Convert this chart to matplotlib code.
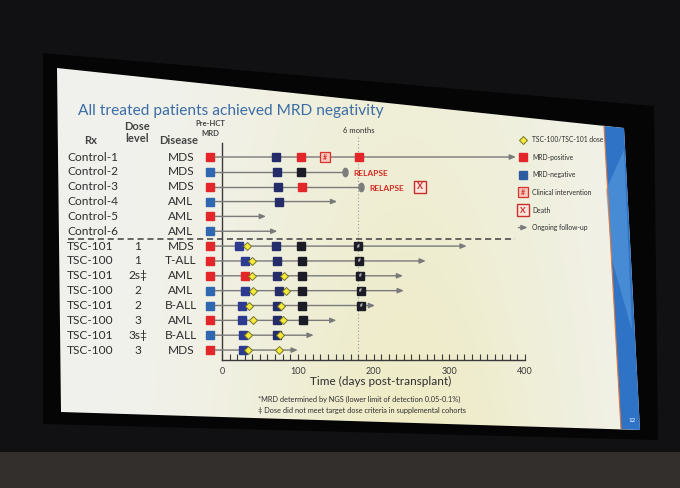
import matplotlib.pyplot as plt
import matplotlib.patches as mpatches
import matplotlib.transforms as mtransforms
from matplotlib.ticker import FixedLocator
import numpy as np

plt.rcParams["font.family"] = ["Lato", "DejaVu Sans"]

W, H = 680, 488

# ---- values ----
rx = ["Control-1", "Control-2", "Control-3", "Control-4", "Control-5", "Control-6",
      "TSC-101", "TSC-100", "TSC-101", "TSC-100", "TSC-101", "TSC-100", "TSC-101", "TSC-100"]
dose_level = ["", "", "", "", "", "", "1", "1", "2s‡", "2", "2", "3", "3s‡", "3"]
disease = ["MDS", "MDS", "MDS", "AML", "AML", "AML",
           "MDS", "T-ALL", "AML", "AML", "B-ALL", "AML", "B-ALL", "MDS"]
pre_hct_mrd = ["pos", "neg", "pos", "neg", "pos", "neg",
               "pos", "pos", "pos", "neg", "neg", "pos", "neg", "pos"]
followup_end = [388, 163, 183, 152, 58, 73, 323, 269, 239, 240, 202, 151, 121, 100]
ongoing = [True, False, False, True, True, True,
           True, True, True, True, True, True, True, True]

# post-transplant events as (row, day)
mrd_neg_early = [(7, 23), (8, 31), (10, 31), (11, 27), (12, 27), (13, 28), (14, 28)]
mrd_neg_mid = [(1, 71), (2, 73), (3, 74), (4, 75), (7, 71), (8, 72), (9, 73),
               (10, 75), (11, 72), (12, 72), (13, 73)]
mrd_neg_late = [(2, 104), (7, 104), (8, 105), (9, 105), (10, 106), (11, 106), (12, 107)]
mrd_neg_6mo = [(7, 180), (8, 181), (9, 182), (10, 183), (11, 184)]
mrd_pos = [(1, 104), (1, 181), (3, 105), (9, 31)]
doses = [(7, 33), (8, 39), (9, 40), (9, 82), (10, 41), (10, 85), (11, 35), (11, 78),
         (12, 41), (12, 81), (13, 34), (13, 77), (14, 34), (14, 75)]
intervention = [(1, 136)]
relapse = [(2, 163), (3, 183)]
death = [(3, 262)]
six_months = 180

legend_labels = ["TSC-100/TSC-101 dose", "MRD-positive", "MRD-negative",
                 "Clinical intervention", "Death", "Ongoing follow-up"]

RED = "#E3262A"
BLUE = "#2F67B0"
NAVY_EARLY = "#2C3A90"
NAVY = "#252C6A"
BLACK = "#1C1C26"
LINE = "#7a7a7a"
TXT = "#2e2e2e"


def ftxt(x, y, s, **kw):
    fig.text(x / W, 1 - y / H, s, **kw)


def day(px):
    return (px - 222) / 0.7575


def row(py):
    return 1 + (py - 157) / 14.85


fig = plt.figure(figsize=(W / 100, H / 100), dpi=100)
fig.patch.set_facecolor("#111113")

# ---- screen / slide backdrop ----
bg = fig.add_axes([0, 0, 1, 1])
bg.set_xlim(0, W)
bg.set_ylim(H, 0)
bg.axis("off")
bg.add_patch(mpatches.Polygon([(0, 452), (W, 452), (W, H), (0, H)],
                              closed=True, fc="#332f2d", ec="none"))
bg.add_patch(mpatches.Polygon([(43, 53), (654, 106), (658, 440), (43, 424)],
                              closed=True, fc="#050506", ec="none"))
slide = mpatches.Polygon([(57, 68), (624, 128), (640, 430), (61, 412)],
                         closed=True, fc="none", ec="none")
bg.add_patch(slide)
gx, gy = np.meshgrid(np.linspace(0, 1, 200), np.linspace(0, 1, 100))
warm = np.exp(-((gx - 0.6) / 0.3) ** 2) * (0.5 + 0.5 * gy)
base = np.array([0.945, 0.948, 0.935])
yellow = np.array([0.93, 0.915, 0.72])
img = base * (1 - 0.75 * warm[..., None]) + yellow * (0.75 * warm[..., None])
im = bg.imshow(img, extent=[57, 640, 432, 68], aspect="auto", zorder=1)
im.set_clip_path(slide)
bg.add_patch(mpatches.Polygon([(604, 126), (624, 128), (640, 430), (621, 429)],
                              closed=True, fc="#2F73C6", ec="none", zorder=2))
bg.add_patch(mpatches.Polygon([(606, 190), (624, 150), (632, 330), (612, 260)],
                              closed=True, fc="#5C9FE2", ec="none", alpha=0.55, zorder=2))
bg.plot([604, 621], [126, 429], color="#E0783A", lw=0.8, zorder=3)

# ---- main timeline axes ----
L, R, T, B = 150, 545, 128, 360
ax = fig.add_axes([L / W, 1 - B / H, (R - L) / W, (B - T) / H])
ax.set_xlim(day(L), day(R))
ax.set_ylim(row(B), row(T))
ax.patch.set_alpha(0)
for side in ["left", "right", "top"]:
    ax.spines[side].set_visible(False)
ax.spines["bottom"].set_bounds(0, 400)
ax.spines["bottom"].set_color("#3a3a3a")
ax.spines["bottom"].set_linewidth(1.0)
ax.set_xticks([0, 100, 200, 300, 400])
ax.xaxis.set_minor_locator(FixedLocator(np.arange(0, 401, 10)))
ax.tick_params(axis="x", which="both", direction="in", length=4, width=0.8,
               colors="#3a3a3a", labelsize=6.5, pad=5)
ax.set_yticks([])
ax.plot([0, 0], [row(143), row(B)], color="#3a3a3a", lw=1.0, clip_on=False)

# 6 months reference
ax.plot([six_months, six_months], [row(137), row(B)], color="#9a9a9a",
        lw=0.8, ls=(0, (1, 2)), clip_on=False)
ax.text(six_months, row(130), "6 months", fontsize=5.5, ha="center", va="center", color=TXT)

# separator between controls and treated patients
ax.plot([day(68), day(515)], [6.5, 6.5], ls=(0, (4, 2.5)), color="#3f3f3f",
        lw=1.1, clip_on=False)

# follow-up lines
for i, end in enumerate(followup_end):
    r = i + 1
    if ongoing[i]:
        ax.annotate("", xy=(end, r), xytext=(-9, r),
                    arrowprops=dict(arrowstyle="-|>,head_length=0.35,head_width=0.15",
                                    color=LINE, lw=1.0, shrinkA=0, shrinkB=0))
    else:
        ax.plot([-9, end], [r, r], color=LINE, lw=1.0)

# pre-HCT MRD
for i, s in enumerate(pre_hct_mrd):
    ax.plot(-16, i + 1, "s", ms=5.8, color=RED if s == "pos" else BLUE, clip_on=False)


def squares(events, color, **kw):
    rows, days = zip(*events)
    ax.plot(days, rows, "s", ms=5.8, color=color, zorder=4, **kw)


squares(mrd_neg_early, NAVY_EARLY)
squares(mrd_neg_mid, NAVY)
squares(mrd_neg_late, BLACK)
squares(mrd_neg_6mo, BLACK)
for r, d in mrd_neg_6mo:
    ax.text(d, r, "#", fontsize=3.5, color="white", ha="center", va="center", zorder=5)
squares(mrd_pos, RED)

drows, ddays = zip(*doses)
ax.plot(ddays, drows, "D", ms=4.2, mfc="#F6EA3A", mec="#74742A", mew=0.7, zorder=6)

for r, d in intervention:
    ax.plot(d, r, "s", ms=7, mfc="#F7C8BE", mec="#D8332A", mew=0.9, zorder=4)
    ax.text(d, r, "#", fontsize=5, color="#D8332A", fontweight="bold",
            ha="center", va="center", zorder=5)

t = np.linspace(0, 2 * np.pi, 40)
ellipse = np.c_[0.6 * np.cos(t), np.sin(t)]
for r, d in relapse:
    ax.plot(d, r, marker=ellipse, ms=6, color="#7d7d7d", zorder=4)
    ax.annotate("RELAPSE", (d, r), xytext=(6, -1.5), textcoords="offset points",
                color="#D42A22", fontsize=6, fontweight="bold", va="center")

for r, d in death:
    ax.plot(d, r, "s", ms=9, mfc="#FBE4DC", mec="#C9302C", mew=1.0, zorder=4)
    ax.text(d, r, "X", fontsize=6.5, color="#C9302C", fontweight="bold",
            ha="center", va="center", zorder=5)

# ---- row labels ----
trans = mtransforms.blended_transform_factory(fig.transFigure, ax.transData)
for i in range(len(rx)):
    r = i + 1
    ax.text(67 / W, r, rx[i], transform=trans, ha="left", va="center", fontsize=8.6, color=TXT)
    ax.text(138 / W, r, dose_level[i], transform=trans, ha="center", va="center",
            fontsize=8.6, color=TXT)
    ax.text(181 / W, r, disease[i], transform=trans, ha="center", va="center",
            fontsize=8.6, color=TXT)

# ---- headers ----
ftxt(78, 111, "All treated patients achieved MRD negativity", fontsize=11.2,
     color="#3C6EA5", va="center")
ftxt(91, 140, "Rx", fontsize=8, fontweight="bold", color="#444", ha="center", va="center")
ftxt(137, 126, "Dose", fontsize=8, fontweight="bold", color="#444", ha="center", va="center")
ftxt(137, 139, "level", fontsize=8, fontweight="bold", color="#444", ha="center", va="center")
ftxt(179, 141, "Disease", fontsize=8, fontweight="bold", color="#444", ha="center", va="center")
ftxt(210, 123, "Pre-HCT", fontsize=5.5, fontweight="bold", color="#444", ha="center", va="center")
ftxt(210, 133, "MRD", fontsize=5.5, fontweight="bold", color="#444", ha="center", va="center")

ftxt(381, 381, "Time (days post-transplant)", fontsize=8.5, color=TXT, ha="center", va="center")
ftxt(258, 399, "*MRD determined by NGS (lower limit of detection 0.05-0.1%)",
     fontsize=5.3, color=TXT, va="center")
ftxt(258, 411, "‡ Dose did not meet target dose criteria in supplemental cohorts",
     fontsize=5.3, color=TXT, va="center")
ftxt(632, 420, "12", fontsize=4.5, color="white", ha="center", va="center")

# ---- legend ----
lx = day(523)
leg_rows = [-0.15 + 1.18 * k for k in range(len(legend_labels))]
ax.plot(lx, leg_rows[0], "D", ms=4.2, mfc="#F6EA3A", mec="#74742A", mew=0.7, clip_on=False)
ax.plot(lx, leg_rows[1], "s", ms=5.8, color=RED, clip_on=False)
ax.plot(lx, leg_rows[2], "s", ms=5.8, color="#2D5CA0", clip_on=False)
ax.plot(lx, leg_rows[3], "s", ms=7, mfc="#F7C8BE", mec="#D8332A", mew=0.9, clip_on=False)
ax.text(lx, leg_rows[3], "#", fontsize=5, color="#D8332A", fontweight="bold",
        ha="center", va="center")
ax.plot(lx, leg_rows[4], "s", ms=8, mfc="#FBE4DC", mec="#C9302C", mew=1.0, clip_on=False)
ax.text(lx, leg_rows[4], "X", fontsize=6, color="#C9302C", fontweight="bold",
        ha="center", va="center")
ax.annotate("", xy=(lx + 6, leg_rows[5]), xytext=(lx - 6, leg_rows[5]),
            arrowprops=dict(arrowstyle="-|>,head_length=0.35,head_width=0.15",
                            color=LINE, lw=1.0, shrinkA=0, shrinkB=0))
for yy, lab in zip(leg_rows, legend_labels):
    ax.text(day(532), yy, lab, fontsize=4.9, color=TXT, ha="left", va="center")

fig.savefig("out.png", dpi=100, facecolor=fig.get_facecolor())
